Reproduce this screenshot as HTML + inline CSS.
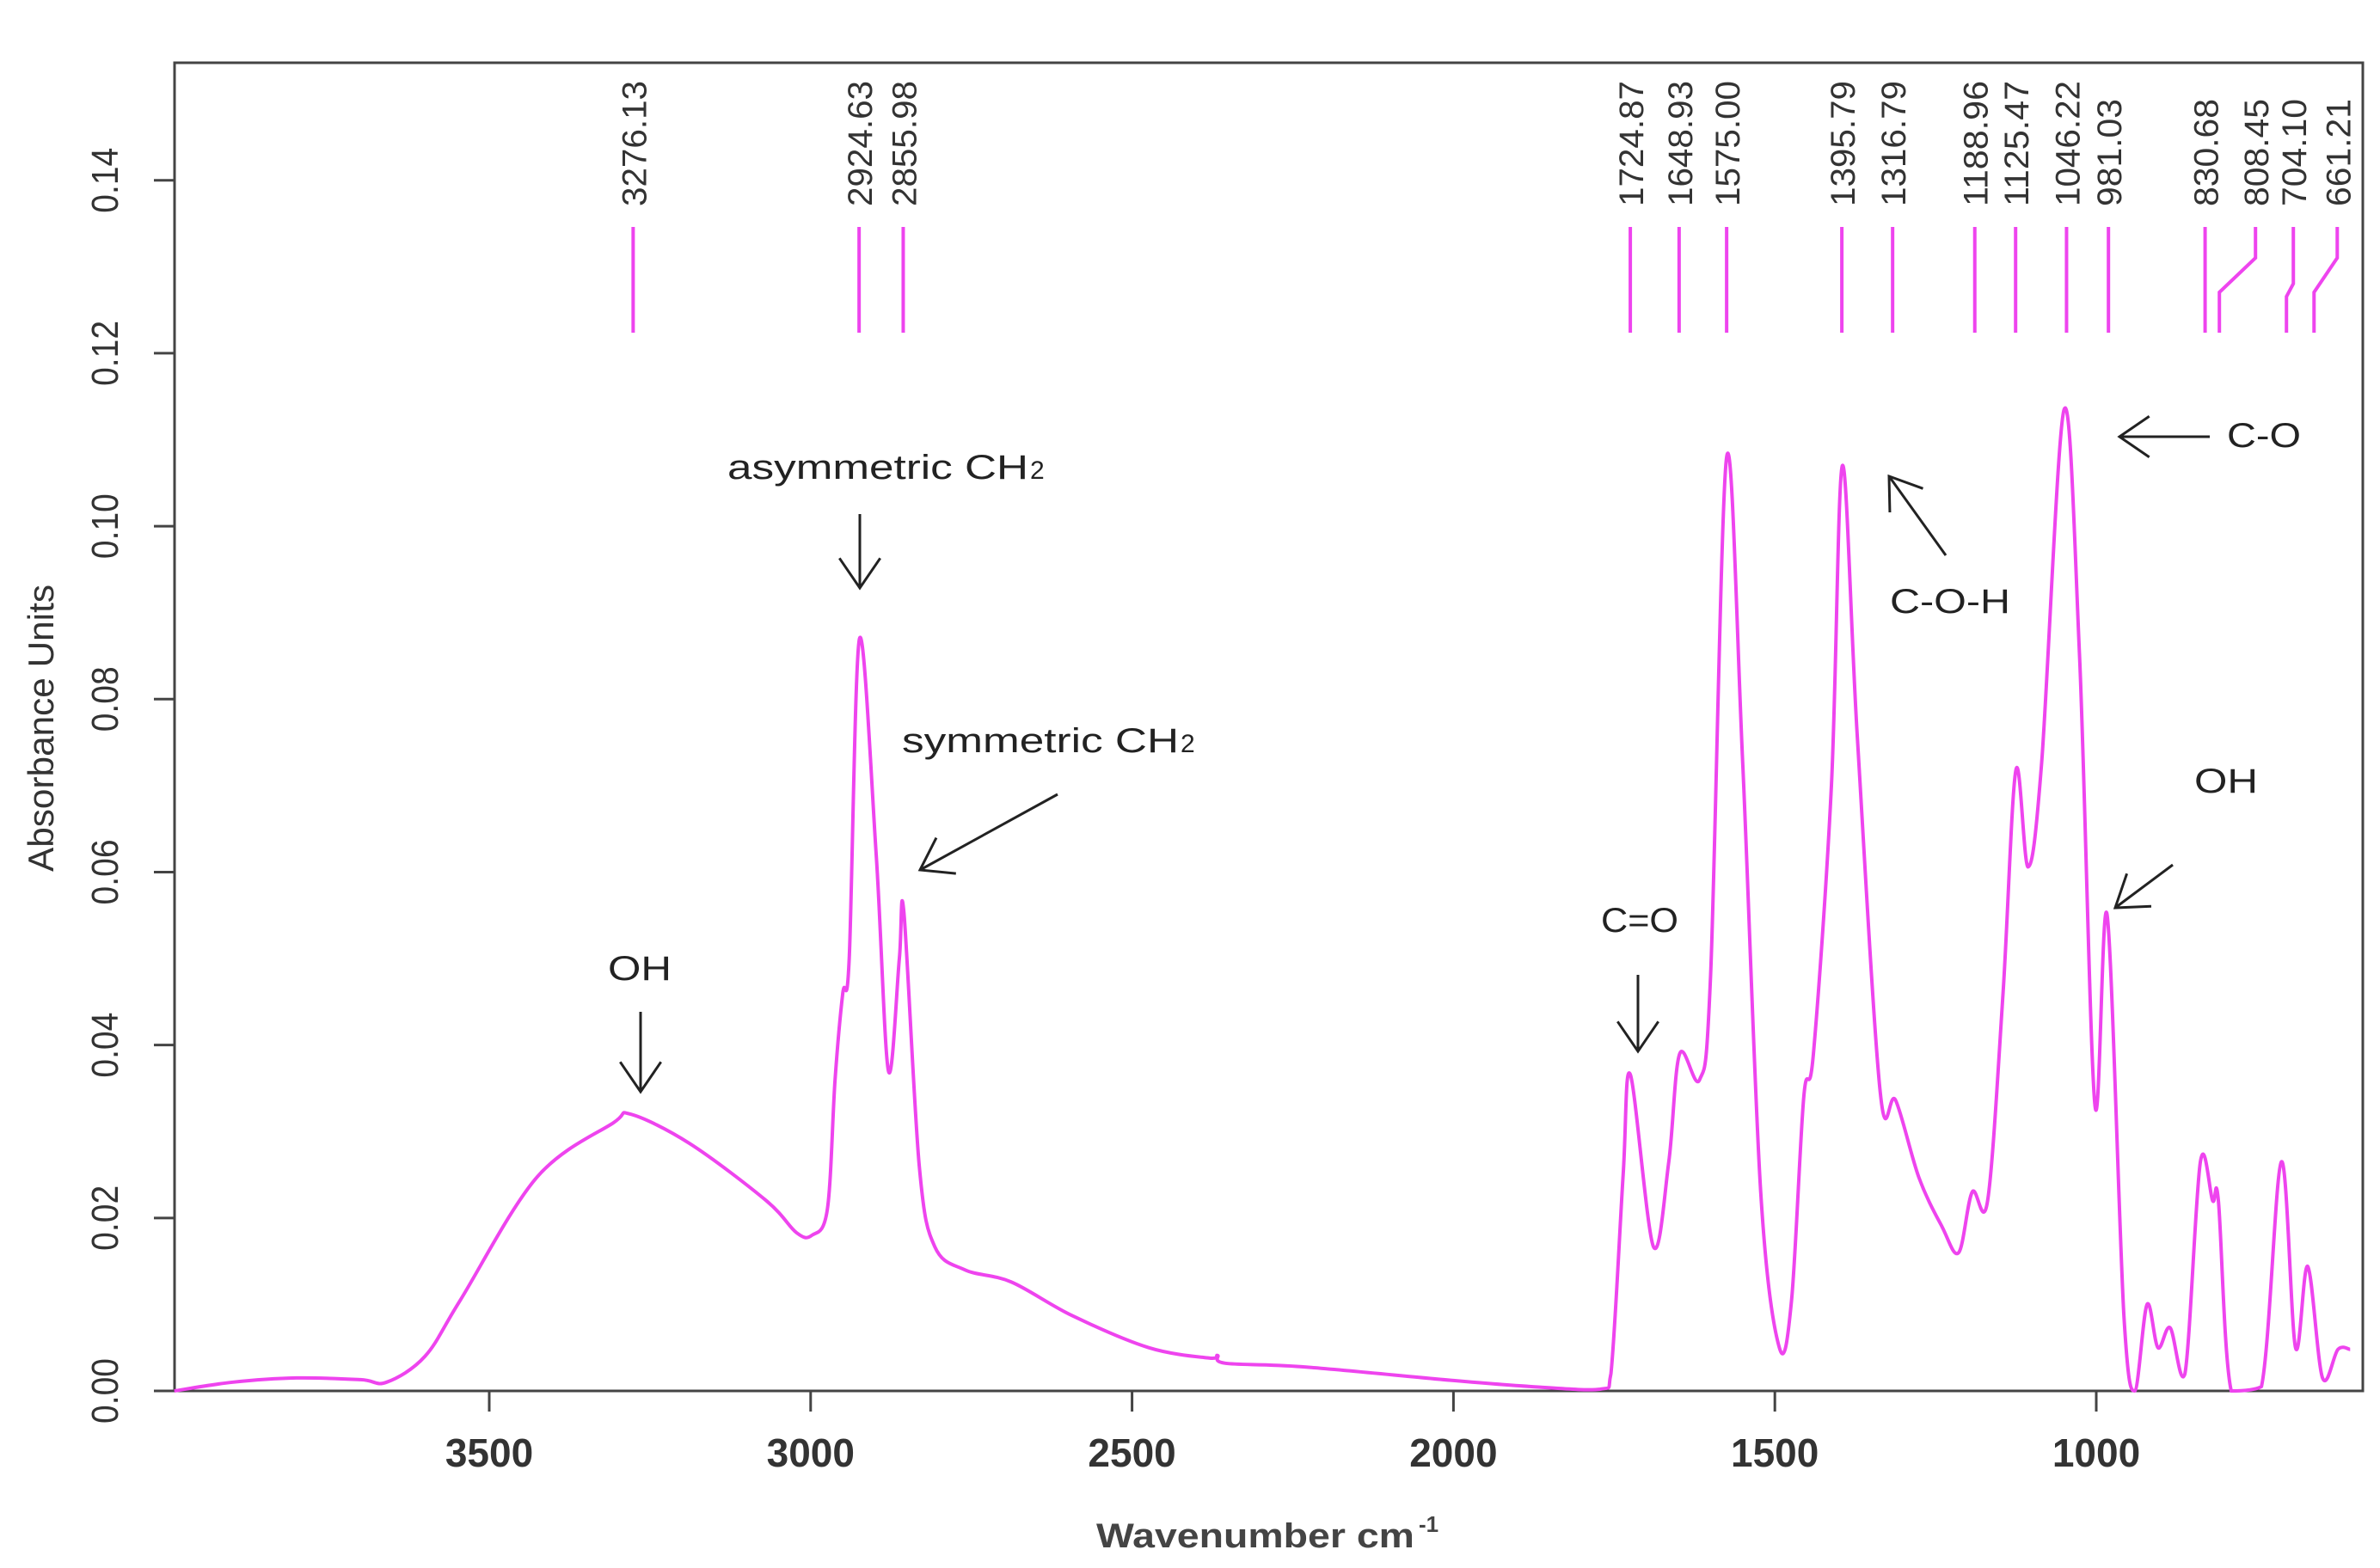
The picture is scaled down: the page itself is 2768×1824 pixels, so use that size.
<!DOCTYPE html>
<html><head><meta charset="utf-8"><style>
html,body{margin:0;padding:0;background:#fff;}
svg{display:block;}
</style></head><body>
<svg id="chart" xmlns="http://www.w3.org/2000/svg" width="2768" height="1824" viewBox="0 0 2768 1824">
<rect x="0" y="0" width="2768" height="1824" fill="#fff"/>
<g id="axes"></g>
<g id="peaks"></g>
<path id="spectrum" fill="none" stroke="#ee44ee" stroke-width="4" stroke-linejoin="round"/>
<g id="annotations" font-family="'Liberation Sans', sans-serif" fill="#222" font-size="40"></g>
<text transform="translate(62,847) rotate(-90)" text-anchor="middle" font-family="'Liberation Sans', sans-serif" font-size="42" fill="#333" textLength="334" lengthAdjust="spacingAndGlyphs">Absorbance Units</text>
<text x="1275" y="1800" font-family="'Liberation Sans', sans-serif" font-weight="bold" font-size="40" fill="#444" textLength="370" lengthAdjust="spacingAndGlyphs">Wavenumber cm</text>
<text x="1650" y="1782" font-family="'Liberation Sans', sans-serif" font-weight="bold" font-size="26" fill="#444">-1</text>
</svg>
<script>
// data
const wavenumbers = [3990,3900,3800,3700,3660,3600,3545,3426,3307,3280,3188,3069,3022,2998,2974,2962,2950,2940,2924,2898,2879,2862,2855,2831,2807,2760,2688,2593,2474,2380,2367,2355,2236,2000,1879,1772,1755,1736,1724.87,1689,1665,1648,1617,1600,1575,1550,1522,1493,1474,1455,1440,1412,1395,1372,1336,1312,1276,1240,1214,1193,1169,1145,1125,1106,1085,1050,1026,1002,983,957,940,921,904,885,862,838,819,810,790,743,712,690,671,648,624,605];
const absorbance = [0.000,0.001,0.0015,0.0013,0.001,0.004,0.0105,0.0247,0.031,0.032,0.0286,0.022,0.0183,0.018,0.021,0.036,0.046,0.05,0.087,0.062,0.037,0.05,0.0554,0.026,0.0167,0.014,0.0126,0.0087,0.005,0.0038,0.0041,0.0032,0.0028,0.0012,0.0005,0.0002,0.002,0.025,0.0366,0.0167,0.0265,0.039,0.036,0.048,0.108,0.0726,0.023,0.005,0.0105,0.034,0.039,0.07,0.107,0.076,0.0345,0.0336,0.0247,0.019,0.016,0.023,0.022,0.046,0.0718,0.0606,0.0726,0.1135,0.085,0.033,0.055,0.0087,0.0,0.01,0.005,0.0073,0.002,0.0265,0.022,0.022,0.0,0.0005,0.0265,0.005,0.0144,0.0015,0.0048,0.0048];
const peakValues = [3276.13,2924.63,2855.98,1724.87,1648.93,1575.00,1395.79,1316.79,1188.96,1125.47,1046.22,981.03,830.68,808.45,704.10,661.21];
const peakLabels = ["3276.13","2924.63","2855.98","1724.87","1648.93","1575.00","1395.79","1316.79","1188.96","1125.47","1046.22","981.03","830.68","808.45","704.10","661.21"];
const xTicks = [3500,3000,2500,2000,1500,1000];
const xTickLabels = ["3500","3000","2500","2000","1500","1000"];
const yTicks = [0,0.02,0.04,0.06,0.08,0.10,0.12,0.14];
const yTickLabels = ["0.00","0.02","0.04","0.06","0.08","0.10","0.12","0.14"];

const NS = "http://www.w3.org/2000/svg";
const L=203,R=2748,T=73,B=1618;
function xs(w){return 569+(3500-w)*0.7476;}
function ys(a){return 1618-a*10059;}
function mk(tag,attrs,parent){const e=document.createElementNS(NS,tag);for(const k in attrs)e.setAttribute(k,attrs[k]);parent.appendChild(e);return e;}

const axes=document.getElementById('axes');
const frame=mk('rect',{x:L,y:T,width:R-L,height:B-T,fill:'none',stroke:'#444','stroke-width':3},axes);


xTicks.forEach((v,i)=>{
  const x=xs(v);
  const t=mk('line',{x1:x,y1:B,x2:x,y2:B+24,stroke:'#444','stroke-width':3},axes);
  
  
  const tx=mk('text',{x:x,y:1706,'text-anchor':'middle','font-family':"'Liberation Sans', sans-serif",'font-weight':'bold','font-size':46,fill:'#333'},axes);
  
  
  tx.textContent=xTickLabels[i];
});
yTicks.forEach((v,i)=>{
  const y=ys(v);
  const t=mk('line',{x1:L,y1:y,x2:L-24,y2:y,stroke:'#444','stroke-width':3},axes);
  
  
  const tx=mk('text',{transform:`translate(137,${y}) rotate(-90)`,'text-anchor':'middle','font-family':"'Liberation Sans', sans-serif",'font-size':44,fill:'#333',textLength:76,lengthAdjust:'spacingAndGlyphs'},axes);
  
  
  tx.textContent=yTickLabels[i];
});

// peak markers
const peaks=document.getElementById('peaks');
const labelOffset={"808.45":42,"661.21":27,"704.10":8};
peakValues.forEach((v,i)=>{
  const x=xs(v);
  const off=labelOffset[peakLabels[i]]||0;
  const lx=x+off;
  let d;
  if(off>10){d=`M${lx},264 L${lx},300 L${x},340 L${x},387`;}
  else{d=`M${lx},264 L${lx},330 L${x},345 L${x},387`;}
  const p=mk('path',{d:d,fill:'none',stroke:'#ee44ee','stroke-width':4},peaks);
  
  
  const tx=mk('text',{transform:`translate(${lx+15},240) rotate(-90)`,'font-family':"'Liberation Sans', sans-serif",'font-size':40,fill:'#333',textLength:peakLabels[i].length>6?146:125,lengthAdjust:'spacingAndGlyphs'},peaks);
  
  
  tx.textContent=peakLabels[i];
});

// spectrum (Catmull-Rom smooth, clamped to baseline)
const pts=wavenumbers.map((w,i)=>[xs(w),ys(absorbance[i])]);
let d=`M${pts[0][0]},${pts[0][1]}`;
for(let i=0;i<pts.length-1;i++){
  const p0=pts[i-1]||pts[i],p1=pts[i],p2=pts[i+1],p3=pts[i+2]||p2;
  const k=6;
  const c1=[p1[0]+(p2[0]-p0[0])/k,Math.min(B,p1[1]+(p2[1]-p0[1])/k)];
  const c2=[p2[0]-(p3[0]-p1[0])/k,Math.min(B,p2[1]-(p3[1]-p1[1])/k)];
  d+=` C${c1[0]},${c1[1]} ${c2[0]},${c2[1]} ${p2[0]},${p2[1]}`;
}
document.getElementById('spectrum').setAttribute('d',d);

// annotations
const ann=document.getElementById('annotations');
function arrow(x1,y1,x2,y2,name){
  const g=mk('g',{stroke:'#222','stroke-width':3,fill:'none'},ann);
  
  
  mk('line',{x1:x1,y1:y1,x2:x2,y2:y2},g);
  const a=Math.atan2(y2-y1,x2-x1),h=42,s=0.6;
  mk('polyline',{points:`${x2-h*Math.cos(a-s)},${y2-h*Math.sin(a-s)} ${x2},${y2} ${x2-h*Math.cos(a+s)},${y2-h*Math.sin(a+s)}`},g);
}
function label(x,y,txt,len,name,sub){
  const t=mk('text',{x:x,y:y},ann);
  
  
  if(len){t.setAttribute('textLength',len);t.setAttribute('lengthAdjust','spacingAndGlyphs');}
  t.textContent=txt;
  if(sub){const s=mk('text',{x:x+len+2,y:y,'font-size':30},ann);s.textContent=sub;}
}
label(846,557,"asymmetric CH",350,"asymmetric-ch2-label","2");
arrow(1000,598,1000,684,"asymmetric-ch2-arrow");
label(1049,875,"symmetric CH",322,"symmetric-ch2-label","2");
arrow(1230,924,1070,1012,"symmetric-ch2-arrow");
label(707,1140,"OH",74,"oh-3276-label");
arrow(745,1177,745,1270,"oh-3276-arrow");
label(1862,1084,"C=O",90,"c-o-double-label");
arrow(1905,1134,1905,1223,"c-o-double-arrow");
label(2198,713,"C-O-H",140,"c-o-h-label");
arrow(2263,646,2197,554,"c-o-h-arrow");
label(2590,520,"C-O",86,"c-o-label");
arrow(2570,508,2465,508,"c-o-arrow");
label(2552,922,"OH",74,"oh-981-label");
arrow(2527,1006,2460,1056,"oh-981-arrow");
</script>
</body></html>
